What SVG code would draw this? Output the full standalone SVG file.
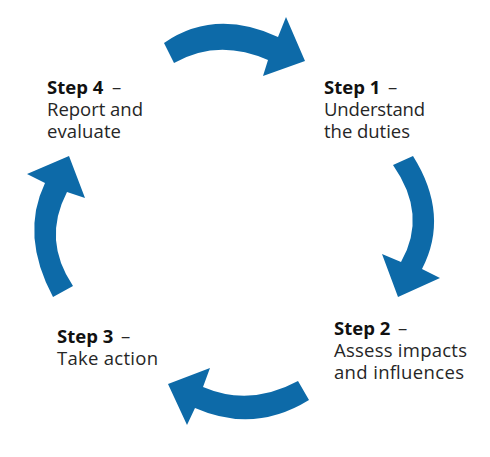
<svg xmlns="http://www.w3.org/2000/svg" width="490" height="457" viewBox="0 0 490 457">
<style>
.arrow{fill:#0d6aa8;stroke:none}
text{font-family:"Open Sans","Liberation Sans",sans-serif;font-size:18.5px;fill:#262626}
.b{font-weight:700;fill:#111}
</style>
<rect width="490" height="457" fill="#ffffff"/>
<g id="connectors">
<path class="arrow" d="M164,43 Q215,8 278,37 L286,17 L305,61 L263,76 L268,60 Q218,38 174,63 Z"/>
<path class="arrow" d="M413,156 Q450,215 422,269 L440,278 L398,297 L382,254 L401,262 Q428,215 393,165 Z"/>
<path class="arrow" d="M309,400 Q254,434 195,408 L187,425 L168,384 L210,368 L203,387 Q250,407 298,381 Z"/>
<path class="arrow" d="M53,297 Q20,235 45,183 L27,174 L69,156 L85,198 L67,192 Q42,240 73,286 Z"/>
</g>
<g id="step1">
<text x="324" y="94"><tspan class="b">Step 1</tspan><tspan x="388">–</tspan></text>
<text x="324" y="116" textLength="101" lengthAdjust="spacing">Understand</text>
<text x="324" y="138" textLength="86" lengthAdjust="spacing">the duties</text>
</g>
<g id="step2">
<text x="334" y="335"><tspan class="b">Step 2</tspan><tspan x="398">–</tspan></text>
<text x="334" y="357" textLength="133" lengthAdjust="spacing">Assess impacts</text>
<text x="334" y="379" textLength="130" lengthAdjust="spacing">and influences</text>
</g>
<g id="step3">
<text x="57" y="343"><tspan class="b">Step 3</tspan><tspan x="121">–</tspan></text>
<text x="57" y="365" textLength="101" lengthAdjust="spacing">Take action</text>
</g>
<g id="step4">
<text x="47" y="94"><tspan class="b">Step 4</tspan><tspan x="112">–</tspan></text>
<text x="47" y="116" textLength="96" lengthAdjust="spacing">Report and</text>
<text x="47" y="138" textLength="74" lengthAdjust="spacing">evaluate</text>
</g>
</svg>
